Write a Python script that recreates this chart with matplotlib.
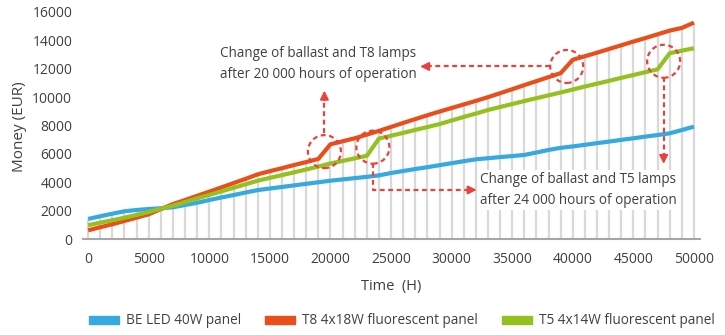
import numpy as np
import matplotlib
matplotlib.use("Agg")
import matplotlib.pyplot as plt
from matplotlib.patches import Circle, Patch
from matplotlib.transforms import ScaledTranslation

# Operating hours (one point every 1000 h)
hours = [0, 1000, 2000, 3000, 4000, 5000, 6000, 7000, 8000, 9000,
         10000, 11000, 12000, 13000, 14000, 15000, 16000, 17000, 18000, 19000,
         20000, 21000, 22000, 23000, 24000, 25000, 26000, 27000, 28000, 29000,
         30000, 31000, 32000, 33000, 34000, 35000, 36000, 37000, 38000, 39000,
         40000, 41000, 42000, 43000, 44000, 45000, 46000, 47000, 48000, 49000,
         50000]

# Cumulative cost (EUR)
led_40w = [1430, 1620, 1800, 1970, 2060, 2130, 2180, 2250, 2410, 2570,
           2760, 2940, 3110, 3290, 3460, 3570, 3680, 3790, 3900, 4010,
           4120, 4210, 4300, 4390, 4490, 4660, 4800, 4940, 5070, 5210,
           5350, 5490, 5620, 5700, 5780, 5850, 5930, 6100, 6280, 6430,
           6530, 6640, 6760, 6870, 6990, 7100, 7220, 7330, 7450, 7680,
           7920]

t8_4x18w = [630, 850, 1060, 1290, 1520, 1760, 2120, 2480, 2760, 3060,
            3350, 3650, 3950, 4250, 4570, 4790, 5000, 5220, 5430, 5650,
            6680, 6890, 7100, 7360, 7620, 7900, 8180, 8450, 8720, 8980,
            9230, 9480, 9730, 9990, 10270, 10550, 10840, 11120, 11400, 11680,
            12620, 12870, 13120, 13380, 13640, 13900, 14150, 14410, 14670, 14860,
            15230]

t5_4x14w = [990, 1170, 1340, 1520, 1710, 1920, 2150, 2360, 2620, 2880,
            3120, 3370, 3620, 3870, 4120, 4320, 4510, 4710, 4910, 5110,
            5330, 5510, 5690, 5870, 7080, 7280, 7480, 7690, 7890, 8100,
            8350, 8600, 8840, 9090, 9300, 9510, 9720, 9920, 10120, 10320,
            10530, 10740, 10940, 11140, 11350, 11550, 11750, 11950, 13080, 13260,
            13430]

series_labels = ["BE LED 40W panel", "T8 4x18W fluorescent panel", "T5 4x14W fluorescent panel"]
series_colors = ["#36A9E1", "#E94E1B", "#95C11F"]

y_ticks = [0, 2000, 4000, 6000, 8000, 10000, 12000, 14000, 16000]
x_ticks = [0, 5000, 10000, 15000, 20000, 25000, 30000, 35000, 40000, 45000, 50000]

note_t8 = "Change of ballast and T8 lamps\nafter 20 000 hours of operation"
note_t5 = "Change of ballast and T5 lamps\nafter 24 000 hours of operation"

FONT = ["Open Sans", "DejaVu Sans"]
TEXT = "#404040"
RED = "#E8423B"
plt.rcParams["font.family"] = FONT

W, H = 725, 335
fig = plt.figure(figsize=(W / 100, H / 100), dpi=100)
ax = fig.add_axes([83.3 / W, (H - 239.3) / H, (700 - 83.3) / W, (239.3 - 11.7) / H])

# Drop lines from the highest series down to the axis
top = np.max([led_40w, t8_4x18w, t5_4x14w], axis=0)
ax.vlines(hours, 0, top, color="#D9D9D9", lw=1.6, zorder=1)

for vals, lab, col in zip([led_40w, t8_4x18w, t5_4x14w], series_labels, series_colors):
    ax.plot(hours, vals, color=col, lw=3.0, label=lab, zorder=3,
            solid_joinstyle="round", solid_capstyle="butt")

ax.set_xlim(-400, 50500)
ax.set_ylim(0, 16000)
ax.set_xticks(x_ticks)
ax.set_yticks(y_ticks)
ax.tick_params(length=0, labelsize=10, labelcolor=TEXT)
ax.tick_params(axis="x", pad=9)
ax.tick_params(axis="y", pad=8)
for s in ["left", "right", "top"]:
    ax.spines[s].set_visible(False)
ax.spines["bottom"].set_color("#A6A6A6")
ax.spines["bottom"].set_linewidth(1.5)
ax.spines["bottom"].set_zorder(2)

ax.set_xlabel("Time  (H)", fontsize=10.5, color=TEXT, labelpad=9)
fig.text(19.5 / W, 1 - 127 / H, "Money (EUR)", rotation=90, ha="center", va="center",
         fontsize=11, color=TEXT)


def ring(cx, cy, r_in=0.165):
    c = Circle((0, 0), r_in, fill=False, ec=RED, lw=1.6, ls=(0, (2.2, 1.6)),
               transform=fig.dpi_scale_trans + ScaledTranslation(cx, cy, ax.transData),
               zorder=5)
    ax.add_patch(c)


def head(tip, offset):
    ax.annotate("", xy=tip, xytext=offset, textcoords="offset points",
                arrowprops=dict(arrowstyle="-|>,head_length=0.5,head_width=0.25",
                                color=RED, lw=1.4, shrinkA=0, shrinkB=0), zorder=6)


dash = dict(color=RED, lw=1.6, ls=(0, (2.2, 1.6)), zorder=5)

# Rings around the lamp/ballast replacements (centred on the jump segments)
i8a, i8b = hours.index(19000), hours.index(39000)
i5a, i5b = hours.index(23000), hours.index(47000)
c1 = ((hours[i8a] + hours[i8a + 1]) / 2, (t8_4x18w[i8a] + t8_4x18w[i8a + 1]) / 2)
c2 = ((hours[i5a] + hours[i5a + 1]) / 2, (t5_4x14w[i5a] + t5_4x14w[i5a + 1]) / 2)
c3 = ((hours[i8b] + hours[i8b + 1]) / 2, (t8_4x18w[i8b] + t8_4x18w[i8b + 1]) / 2)
c4 = ((hours[i5b] + hours[i5b + 1]) / 2, (t5_4x14w[i5b] + t5_4x14w[i5b + 1]) / 2)
for c in (c1, c2, c3, c4):
    ring(*c)

# T8 callouts
ax.plot([c1[0], c1[0]], [7450, 10000], **dash)
head((c1[0], 10450), (0, -7))
ax.plot([38100, 27900], [c3[1], c3[1]], **dash)
head((27400, c3[1]), (7, 0))

# T5 callouts
ax.plot([c2[0], c2[0], 31600], [5350, 3470, 3470], **dash)
head((32070, 3470), (-7, 0))
ax.plot([c4[0], c4[0]], [11380, 5750], **dash)
head((c4[0], 5300), (0, 7))

ax.text(10900, 12290, note_t8, ha="left", va="center", fontsize=9.75, color=TEXT,
        linespacing=1.55, zorder=7)
ax.text(32340, 3446, note_t5, ha="left", va="center", fontsize=9.75, color=TEXT,
        linespacing=1.55, zorder=7,
        bbox=dict(boxstyle="square,pad=0.15", fc="white", ec="none"))

handles = [Patch(color=c, label=l) for c, l in zip(series_colors, series_labels)]
fig.legend(handles=handles, loc="center", bbox_to_anchor=(402 / W, 1 - 321 / H), ncol=3,
           frameon=False, fontsize=9.8, labelcolor=TEXT, handlelength=2.2, handleheight=0.55,
           handletextpad=0.5, columnspacing=1.8, borderpad=0, borderaxespad=0)

fig.savefig("out.png", dpi=100)
